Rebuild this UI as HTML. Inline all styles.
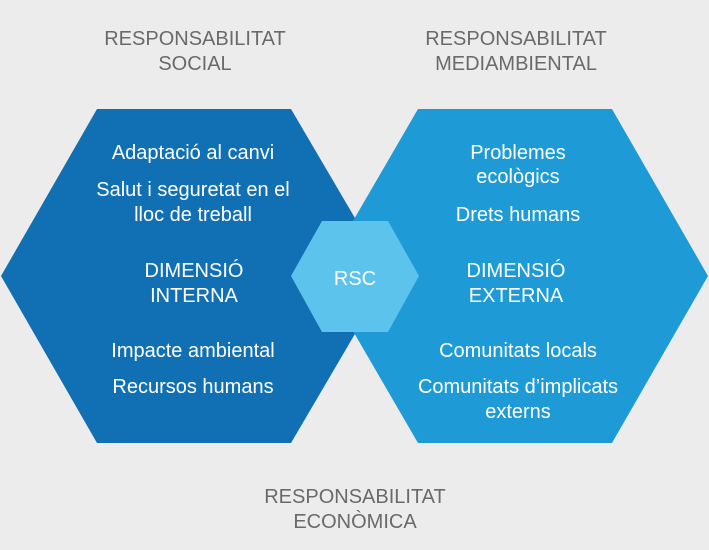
<!DOCTYPE html>
<html><head><meta charset="utf-8"><style>
html,body{margin:0;padding:0;background:#ececec;}
svg{display:block}
text{font-family:"Liberation Sans",sans-serif;font-size:20px;text-anchor:middle;}
.t{fill:#6a6a6a;}
.w{fill:#fff;}
</style></head><body>
<svg width="709" height="550" viewBox="0 0 709 550">
<rect width="709" height="550" fill="#ececec"/>
<polygon points="97,109 291,109 389,276 291,443 97,443 1,276" fill="#1170b4"/>
<polygon points="418,109 612,109 708,276 612,443 418,443 321,276" fill="#1e9bd6"/>
<polygon points="291,276 322,221 388,221 419,276 388,332 322,332" fill="#5bc3ec"/>
<text class="t" x="195" y="45">RESPONSABILITAT</text>
<text class="t" x="195" y="70">SOCIAL</text>
<text class="t" x="516" y="45">RESPONSABILITAT</text>
<text class="t" x="516" y="70">MEDIAMBIENTAL</text>
<text class="t" x="355" y="503">RESPONSABILITAT</text>
<text class="t" x="355" y="528">ECONÒMICA</text>
<text class="w" x="193" y="159">Adaptació al canvi</text>
<text class="w" x="193" y="196">Salut i seguretat en el</text>
<text class="w" x="193" y="221">lloc de treball</text>
<text class="w" x="194" y="277">DIMENSIÓ</text>
<text class="w" x="194" y="302">INTERNA</text>
<text class="w" x="193" y="357">Impacte ambiental</text>
<text class="w" x="193" y="393">Recursos humans</text>
<text class="w" x="355" y="285">RSC</text>
<text class="w" x="518" y="159">Problemes</text>
<text class="w" x="518" y="183">ecològics</text>
<text class="w" x="518" y="221">Drets humans</text>
<text class="w" x="516" y="277">DIMENSIÓ</text>
<text class="w" x="516" y="302">EXTERNA</text>
<text class="w" x="518" y="357">Comunitats locals</text>
<text class="w" x="518" y="393">Comunitats d’implicats</text>
<text class="w" x="518" y="418">externs</text>
</svg>
</body></html>
